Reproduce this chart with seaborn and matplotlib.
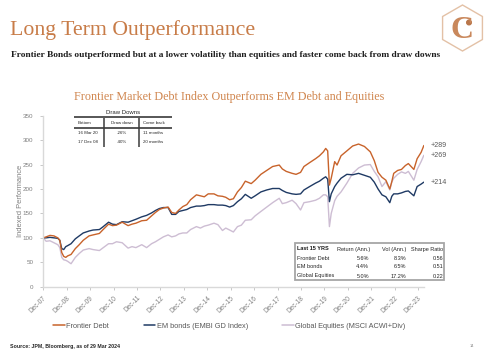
import numpy as np
import pandas as pd
import matplotlib
matplotlib.use("Agg")
import matplotlib.pyplot as plt
import matplotlib.dates as mdates
import seaborn as sns
from matplotlib.patches import Rectangle, RegularPolygon, Circle

# ---------------- data ----------------
dates = ["2007-12-31", "2008-02-15", "2008-04-15", "2008-06-15", "2008-08-15", "2008-09-15",
         "2008-10-15", "2008-11-15", "2008-12-17", "2009-01-15", "2009-03-09", "2009-05-15",
         "2009-07-15", "2009-09-15", "2009-12-15", "2010-02-15", "2010-05-25", "2010-07-15",
         "2010-10-15", "2010-12-15", "2011-02-15", "2011-05-15", "2011-08-15", "2011-10-15",
         "2011-12-15", "2012-03-15", "2012-05-30", "2012-08-15", "2012-10-15", "2012-12-15",
         "2013-02-15", "2013-04-30", "2013-06-25", "2013-08-25", "2013-10-15", "2013-12-15",
         "2014-02-15", "2014-04-15", "2014-07-15", "2014-09-15", "2014-11-15", "2015-01-15",
         "2015-04-15", "2015-06-15", "2015-08-25", "2015-10-15", "2015-12-15", "2016-02-11",
         "2016-04-15", "2016-06-15", "2016-08-15", "2016-11-15", "2017-01-15", "2017-04-15",
         "2017-07-15", "2017-10-15", "2018-01-26", "2018-03-15", "2018-05-15", "2018-08-15",
         "2018-10-15", "2018-12-24", "2019-02-15", "2019-05-15", "2019-08-15", "2019-10-15",
         "2019-12-15", "2020-01-20", "2020-02-20", "2020-03-18", "2020-04-15", "2020-06-08",
         "2020-07-15", "2020-09-15", "2020-12-15", "2021-03-15", "2021-06-15", "2021-09-15",
         "2021-12-15", "2022-02-15", "2022-04-15", "2022-06-15", "2022-08-15", "2022-10-15",
         "2022-11-15", "2022-12-15", "2023-02-15", "2023-04-15", "2023-06-15", "2023-07-31",
         "2023-10-25", "2023-12-15", "2024-02-15", "2024-03-29"]

frontier = [100, 102, 105, 104, 100, 95, 70, 62, 60, 63, 66, 78,
            86, 95, 104, 106, 109, 116, 128, 125, 126, 132, 125, 128,
            130, 135, 136, 145, 152, 158, 161, 163, 152, 150, 157, 164,
            168, 178, 188, 186, 184, 190, 190, 186, 185, 183, 178, 180,
            194, 203, 216, 211, 218, 230, 238, 246, 249, 241, 236, 232,
            230, 234, 246, 254, 262, 268, 276, 283, 278, 208, 222, 256,
            249, 268, 278, 288, 292, 287, 276, 258, 234, 224, 218, 200,
            215, 232, 238, 240, 248, 252, 240, 262, 275, 289]

em_bonds = [100, 100, 101, 100, 99, 95, 78, 76, 82, 84, 88, 98,
            104, 110, 114, 116, 117, 122, 132, 128, 127, 133, 132, 135,
            138, 143, 146, 151, 156, 160, 162, 162, 148, 148, 154, 156,
            158, 162, 165, 165, 166, 168, 168, 167, 167, 166, 163, 166,
            174, 180, 189, 181, 186, 194, 198, 201, 201, 197, 193, 190,
            189, 190, 198, 205, 212, 216, 222, 225, 220, 174, 190, 205,
            212, 222, 230, 229, 232, 228, 224, 214, 200, 188, 184, 172,
            185, 190, 190, 192, 195, 196, 186, 205, 210, 214]

global_eq = [100, 93, 94, 90, 86, 80, 60, 55, 54, 52, 47, 60,
             68, 75, 78, 76, 74, 79, 88, 88, 92, 90, 79, 82,
             80, 86, 80, 88, 92, 97, 102, 106, 102, 104, 108, 110,
             110, 117, 123, 120, 124, 126, 130, 127, 115, 120, 116, 112,
             123, 126, 136, 137, 145, 154, 163, 172, 181, 170, 172, 177,
             170, 157, 172, 174, 177, 181, 188, 188, 184, 123, 150, 176,
             185, 194, 212, 232, 243, 249, 250, 236, 225, 205, 215, 198,
             214, 222, 230, 235, 232, 236, 218, 240, 256, 269]

series_names = ["Frontier Debt", "EM bonds (EMBI GD Index)", "Global Equities (MSCI ACWI+Div)"]
series_colors = ["#C8632B", "#1F3A64", "#CDBDD3"]
end_labels = ["+289", "+214", "+269"]

tick_years = list(range(2007, 2024))
tick_labels = ["Dec-%02d" % (y % 100) for y in tick_years]
y_ticks = [0, 50, 100, 150, 200, 250, 300, 350]

dd_title = "Draw Downs"
dd_header = ["Bottom", "Draw down", "Come back"]
dd_rows = [["16 Mar 20", "-26%", "11 months"],
           ["17 Dec 08", "-40%", "20 months"]]

st_header = ["Last 15 YRS", "Return (Ann.)", "Vol (Ann.)", "Sharpe Ratio"]
st_rows = [["Frontier Debt", "5.6%", "8.3%", "0.56"],
           ["EM bonds", "4.4%", "6.5%", "0.51"],
           ["Global Equities", "5.0%", "17.2%", "0.22"]]

main_title = "Long Term Outperformance"
subtitle = "Frontier Bonds outperformed but at a lower volatility than equities and faster come back from draw downs"
chart_title = "Frontier Market Debt Index Outperforms EM Debt and Equities"
source = "Source: JPM, Bloomberg, as of 29 Mar 2024"
page_no = "14"

# ---------------- style ----------------
sns.set_style("white")
plt.rcParams["font.family"] = ["Liberation Sans", "DejaVu Sans"]

W, H = 492, 351
fig = plt.figure(figsize=(W / 100, H / 100), dpi=100)
fig.patch.set_facecolor("white")

ax = fig.add_axes([43 / W, 1 - 286.7 / H, (424 - 43) / W, (286.7 - 115.7) / H])

df = pd.DataFrame({
    "date": pd.to_datetime(dates * 3),
    "value": frontier + em_bonds + global_eq,
    "series": [series_names[0]] * len(dates) + [series_names[1]] * len(dates) + [series_names[2]] * len(dates),
})
palette = dict(zip(series_names, series_colors))
draw_order = [series_names[2], series_names[1], series_names[0]]
sns.lineplot(data=df, x="date", y="value", hue="series", hue_order=draw_order,
             palette=palette, linewidth=1.0, ax=ax, legend=False)

ax.set_xlim(pd.Timestamp("2007-12-28"), pd.Timestamp("2024-03-31"))
ax.set_ylim(0, 350)
ax.set_yticks(y_ticks)
ax.set_xticks([pd.Timestamp("%d-12-31" % y) for y in tick_years])
ax.set_xticklabels(tick_labels)
ax.set_xlabel("")
ax.set_ylabel("Indexed Performance", fontsize=5.4, color="#7F7F7F")
ax.yaxis.set_label_coords(-(43 - 24) / 381, 0.5)
for s in ["top", "right"]:
    ax.spines[s].set_visible(False)
for s in ["left", "bottom"]:
    ax.spines[s].set_color("#D9D9D9")
    ax.spines[s].set_linewidth(1.0)
ax.tick_params(axis="y", length=2, width=0.6, color="#BFBFBF", labelsize=4.5,
               labelcolor="#7F7F7F", pad=5, left=True)
ax.tick_params(axis="x", length=2, width=0.6, color="#BFBFBF", labelsize=4.7,
               labelcolor="#7F7F7F", pad=3.5, bottom=True)
plt.setp(ax.get_xticklabels(), rotation=45, ha="right", rotation_mode="anchor")
ax.grid(False)

# end labels
for vals, lab in zip([frontier, em_bonds, global_eq], end_labels):
    ax.annotate(lab, xy=(pd.Timestamp(dates[-1]), vals[-1]), xytext=(4.5, 0),
                textcoords="offset points", va="center", ha="left",
                fontsize=5.1, color="#595959", annotation_clip=False)

# legend
handles = [plt.Line2D([], [], color=c, lw=1.1) for c in series_colors]
fig.legend(handles, series_names, loc="center", bbox_to_anchor=(229.5 / W, 1 - 326 / H),
           ncol=3, frameon=False, fontsize=5.3, handlelength=1.6, handletextpad=0.15,
           columnspacing=4.7, labelcolor="#595959")

# overlay in pixel coordinates
ov = fig.add_axes([0, 0, 1, 1], zorder=5)
ov.set_xlim(0, W)
ov.set_ylim(H, 0)
ov.axis("off")

t_main = ov.text(10, 34.5, main_title, fontsize=18, family="Liberation Serif",
                 color="#C87C48", ha="left", va="baseline")
t_sub = ov.text(10.7, 57, subtitle, fontsize=7, family="Liberation Serif", weight="bold",
                color="#1E1E1E", ha="left", va="baseline")
t_chart = ov.text(229, 100, chart_title, fontsize=10, family="Liberation Serif",
                  color="#D0864F", ha="center", va="baseline")
t_src = ov.text(10, 346.7, source, fontsize=4.3, weight="bold", color="#262626",
                ha="left", va="center")
ov.text(472, 346, page_no, fontsize=3, color="#8C8C8C", ha="center", va="center")

# logo
ov.add_patch(RegularPolygon((462.5, 28), numVertices=6, radius=23, orientation=0,
                            facecolor="none", edgecolor="#E3C1A6", lw=1.0))
ov.text(462, 30, "C", fontsize=23, family="Liberation Serif", weight="bold",
        color="#C9885C", ha="center", va="center")
ov.add_patch(Circle((469, 22.5), 2.3, color="#B9764A"))

fig.canvas.draw()
r = fig.canvas.get_renderer()
for t, w in [(t_main, 245), (t_sub, 432), (t_chart, 312), (t_src, 109)]:
    bb = t.get_window_extent(r)
    t.set_fontsize(t.get_fontsize() * w / bb.width)

# draw downs table
dark = "#3A3A3A"
ov.text(123, 112.7, dd_title, fontsize=4.3, color="#262626", ha="center", va="center")
ov.plot([74, 172], [117.3, 117.3], color=dark, lw=1.2, solid_capstyle="butt")
ov.plot([74, 172], [128, 128], color=dark, lw=1.2, solid_capstyle="butt")
ov.plot([104, 104], [118, 147], color=dark, lw=1.1, solid_capstyle="butt")
ov.plot([139, 139], [118, 147], color=dark, lw=1.1, solid_capstyle="butt")
ov.text(78, 123.3, dd_header[0], fontsize=3.2, color="#262626", ha="left", va="center")
ov.text(121.5, 123.3, dd_header[1], fontsize=3.2, color="#262626", ha="center", va="center")
ov.text(143, 123.3, dd_header[2], fontsize=3.2, color="#262626", ha="left", va="center")
for yy, row in zip([133.3, 142.3], dd_rows):
    ov.text(78, yy, row[0], fontsize=3.2, color="#262626", ha="left", va="center")
    ov.text(121.5, yy, row[1], fontsize=3.2, color="#262626", ha="center", va="center")
    ov.text(143, yy, row[2], fontsize=3.2, color="#262626", ha="left", va="center")

# statistics table
ov.add_patch(Rectangle((295, 242.7), 149, 37, facecolor="white", edgecolor="#A6A6A6", lw=1.3))
ov.text(297, 249, st_header[0], fontsize=4, weight="bold", color="#1A1A1A", ha="left", va="center")
for xr, txt in zip([370, 406.7, 443.5], st_header[1:]):
    ov.text(xr, 249, txt, fontsize=4, color="#262626", ha="right", va="center")
for yy, row in zip([258, 267, 276], st_rows):
    ov.text(297, yy, row[0], fontsize=4, color="#262626", ha="left", va="center")
    for xr, txt in zip([369, 406, 443.5], row[1:]):
        ov.text(xr, yy, txt, fontsize=4, color="#262626", ha="right", va="center")

fig.savefig("out.png", dpi=100)
